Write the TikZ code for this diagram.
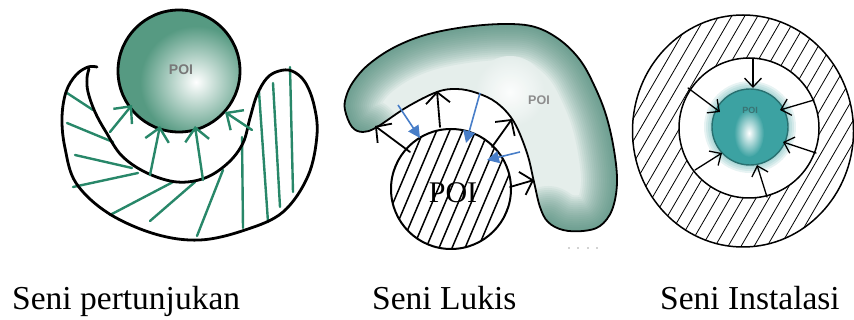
\documentclass[tikz,border=0pt]{standalone}
\usepackage{fontspec}
\setmainfont{Liberation Serif}
\newfontfamily\poisans{Liberation Sans}
\usetikzlibrary{arrows.meta}
\definecolor{hatchgreen}{RGB}{40,135,105}
\definecolor{pteal}{RGB}{86,154,130}
\definecolor{bteal}{RGB}{70,135,115}
\definecolor{ballteal}{RGB}{60,162,162}
\definecolor{balledge}{RGB}{40,112,112}
\definecolor{poigray}{RGB}{120,120,120}
\definecolor{bluearr}{RGB}{72,126,200}
\tikzset{
  garrow/.style={draw=hatchgreen, line width=2.4pt, line cap=round, -{Straight Barb[length=13pt,width=24pt]}},
  ghatch/.style={draw=hatchgreen, line width=2.4pt, line cap=round},
  karrow/.style={draw=black, line width=1.8pt, line cap=round, -{Straight Barb[length=11pt,width=24pt]}},
  barrow/.style={draw=bluearr, line width=1.6pt, -{Triangle[length=12pt,width=12pt]}},
  tarrow/.style={draw=black, line width=1.3pt, line cap=round, -{Straight Barb[length=9pt,width=17pt]}},
  caption/.style={anchor=base west, inner sep=0pt, font=\fontsize{33.5}{36}\selectfont},
  poilabel/.style={text=poigray, inner sep=0pt, font=\poisans\bfseries}
}
\begin{document}
\begin{tikzpicture}[x=1pt,y=-1pt]
\useasboundingbox (0,0) rectangle (854,320);

% ================= Panel 1: Seni pertunjukan =================
\begin{scope}
  \clip (179,71) circle (61);
  \fill[pteal] (179,71) circle (61);
  \shade[inner color=white, outer color=pteal] (196,82) circle (56);
\end{scope}
\draw[line width=2.8pt] (179,71) circle (61);
\node[poilabel, font=\poisans\bfseries\fontsize{14}{14}\selectfont] (poi1) at (181,70) {POI};

% green hatch
\draw[ghatch] (67,93) -- (93,110);
\draw[ghatch] (67,123) -- (113,142);
\draw[ghatch] (75,155) -- (132,168);
\draw[ghatch] (73,187) -- (138,173);
\draw[ghatch] (110,215) -- (173,182);
\draw[ghatch] (150,221) -- (195,182);
\draw[ghatch] (197,236) -- (223,170);
\draw[ghatch] (243,228) -- (242,137);
\draw[ghatch] (268,222) -- (259,92);
\draw[ghatch] (280,207) -- (273,83);
\draw[ghatch] (293,192) -- (290,67);

% crescent outline
\draw[line width=2.8pt, line cap=round, line join=round] plot[smooth, tension=0.6] coordinates {
  (97,67) (88,67) (76,75) (66,92) (62,118) (65,148) (76,183) (108,213) (155,234) (200,240)
  (245,230) (283,212) (308,176) (317,135) (314,105) (305,82) (292,71) (279,71) (267,78)
  (257,95) (250,118) (243,143) (228,163) (205,178) (177,182) (147,173) (122,156)
  (106,132) (95,112) (88,92) (87,78) (89,69)};

% green arrows
\coordinate (g1s) at (110,132); \coordinate (g1e) at (132,105);
\coordinate (g2s) at (150,175); \coordinate (g2e) at (160,126);
\coordinate (g3s) at (203,180); \coordinate (g3e) at (195,126);
\coordinate (g4s) at (252,130); \coordinate (g4e) at (225,112);
\draw[garrow] (g1s) -- (g1e);
\draw[garrow] (g2s) -- (g2e);
\draw[garrow] (g3s) -- (g3e);
\draw[garrow] (g4s) -- (g4e);

% ================= Panel 2: Seni Lukis =================
\begin{scope}
  \clip plot[smooth cycle, tension=0.6] coordinates {
    (345,110) (346,97) (353,82) (368,65) (393,48) (425,35) (465,27) (505,24) (535,27)
    (560,40) (580,60) (594,85) (606,115) (614,150) (617,183) (612,210) (600,226) (583,231)
    (563,230) (548,222) (540,207) (534,182) (527,153) (514,122) (497,103) (477,93) (457,89)
    (437,92) (407,107) (377,127) (363,132) (352,127)};
  \fill[bteal!14] (330,10) rectangle (630,240);
  \foreach \w in {72,68,...,4} {
    \draw[bteal, line width=\w pt, opacity=0.065, line cap=round] plot[smooth, tension=0.6] coordinates {
      (365,134) (352,127) (345,110) (346,97) (353,82) (368,65) (393,48) (425,35) (465,27) (505,24) (535,27)
      (560,40) (580,60) (594,85) (606,115) (614,150) (617,183) (612,210) (600,226) (583,231)
      (563,230) (548,222)};
  }
  \shade[inner color=white, outer color=bteal!14, opacity=0.9] (510,92) circle (36);
\end{scope}
\draw[line width=1.8pt, line join=round] plot[smooth cycle, tension=0.6] coordinates {
    (345,110) (346,97) (353,82) (368,65) (393,48) (425,35) (465,27) (505,24) (535,27)
    (560,40) (580,60) (594,85) (606,115) (614,150) (617,183) (612,210) (600,226) (583,231)
    (563,230) (548,222) (540,207) (534,182) (527,153) (514,122) (497,103) (477,93) (457,89)
    (437,92) (407,107) (377,127) (363,132) (352,127)};
\node[poilabel, font=\poisans\bfseries\fontsize{12.5}{12.5}\selectfont, text=poigray!85] (poi2a) at (539,100) {POI};

% hatched circle
\begin{scope}
  \clip (451,189) circle (60);
  \foreach \i in {-7,...,7} {
    \draw[line width=1.5pt] ({451+13*\i-36},274) -- ({451+13*\i+36},104);
  }
\end{scope}
\draw[line width=2pt] (451,189) circle (60);
\node[inner sep=0pt, font=\fontsize{30}{30}\selectfont] (poi2b) at (453,193) {POI};

% black arrows
\coordinate (k1s) at (410,152); \coordinate (k1e) at (375,126);
\coordinate (k2s) at (440,127); \coordinate (k2e) at (437,91);
\coordinate (k3s) at (492,147); \coordinate (k3e) at (512,119);
\coordinate (k4s) at (510,187); \coordinate (k4e) at (534,180);
\draw[karrow] (k1s) -- (k1e);
\draw[karrow] (k2s) -- (k2e);
\draw[karrow] (k3s) -- (k3e);
\draw[karrow] (k4s) -- (k4e);

% blue arrows
\coordinate (b1s) at (398,105); \coordinate (b1e) at (420,138);
\coordinate (b2s) at (480,93);  \coordinate (b2e) at (466,143);
\coordinate (b3s) at (520,152); \coordinate (b3e) at (487,160);
\draw[barrow] (b1s) -- (b1e);
\draw[barrow] (b2s) -- (b2e);
\draw[barrow] (b3s) -- (b3e);

% tiny dots
\foreach \x in {569,578,588,597} \fill[gray!70] (\x,248) circle (0.8);

% ================= Panel 3: Seni Instalasi =================
\begin{scope}
  \clip (743,131) ellipse [x radius=111, y radius=116];
  \foreach \i in {-16,...,16} {
    \draw[line width=0.8pt] ({743+13*\i-72},255) -- ({743+13*\i+72},7);
  }
\end{scope}
\fill[white] (749,128) circle (70);
\draw[line width=1.5pt] (743,131) ellipse [x radius=110.5, y radius=116];
\draw[line width=1.5pt] (749,128) circle (70);

% ball
\foreach \r in {46,44,42,40} \fill[ballteal, opacity=0.12] (750,127) circle (\r);
\fill[ballteal] (750,127) circle (38);
\shade[inner color=white, outer color=ballteal] (749,133) ellipse [x radius=15, y radius=24];
\draw[balledge, line width=1.4pt] (750,127) circle (38);
\node[poilabel, font=\poisans\bfseries\fontsize{9}{9}\selectfont, text=balledge!80!gray] (poi3) at (750,110) {POI};

% arrows toward ball
\coordinate (t1s) at (753,59);  \coordinate (t1e) at (753,88);
\coordinate (t2s) at (688,88);  \coordinate (t2e) at (720,112);
\coordinate (t3s) at (814,100); \coordinate (t3e) at (780,110);
\coordinate (t4s) at (816,153); \coordinate (t4e) at (783,142);
\coordinate (t5s) at (695,170); \coordinate (t5e) at (722,153);
\coordinate (t6s) at (767,197); \coordinate (t6e) at (757,165);
\draw[tarrow] (t1s) -- (t1e);
\draw[tarrow] (t2s) -- (t2e);
\draw[tarrow] (t3s) -- (t3e);
\draw[tarrow] (t4s) -- (t4e);
\draw[tarrow] (t5s) -- (t5e);
\draw[tarrow] (t6s) -- (t6e);

% ================= Captions =================
\node[caption] (cap1) at (12,309) {Seni pertunjukan};
\node[caption] (cap2) at (372,309) {Seni Lukis};
\node[caption] (cap3) at (660,309) {Seni Instalasi};
\end{tikzpicture}
\end{document}
